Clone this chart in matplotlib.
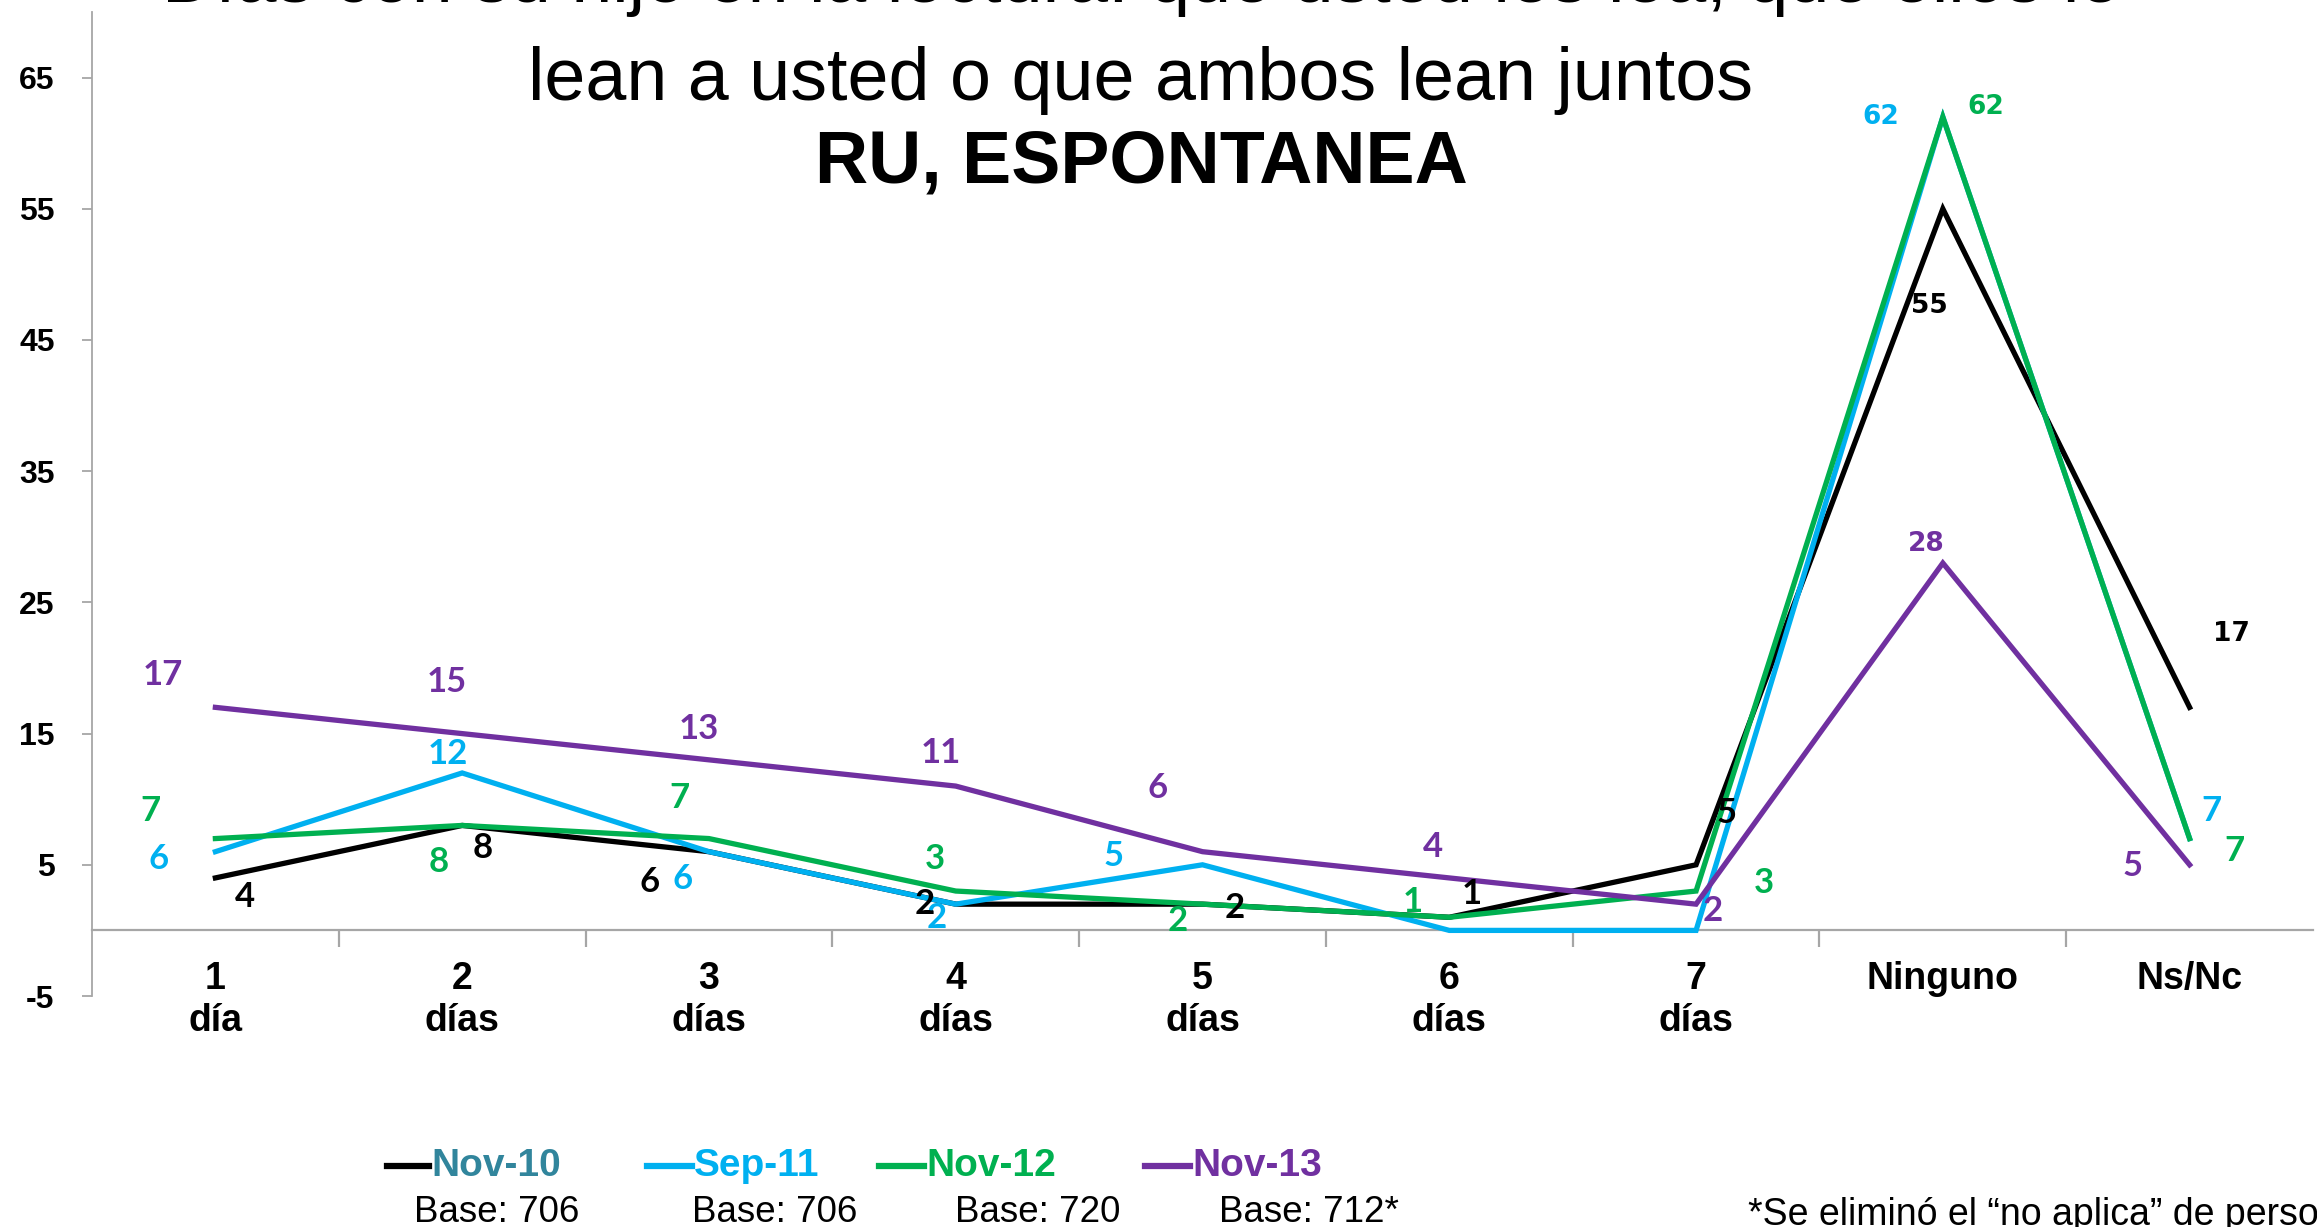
import matplotlib
matplotlib.use("Agg")
import matplotlib.pyplot as plt
from matplotlib.lines import Line2D

# ---------------- data ----------------
categories = ["1\ndía", "2\ndías", "3\ndías", "4\ndías", "5\ndías", "6\ndías", "7\ndías", "Ninguno", "Ns/Nc"]
series_names = ["Nov-10", "Sep-11", "Nov-12", "Nov-13"]
bases = ["Base: 706", "Base: 706", "Base: 720", "Base: 712*"]
nov10 = [4, 8, 6, 2, 2, 1, 5, 55, 17]
sep11 = [6, 12, 6, 2, 5, 0, 0, 62, 7]
nov12 = [7, 8, 7, 3, 2, 1, 3, 62, 7]
nov13 = [17, 15, 13, 11, 6, 4, 2, 28, 5]
# which points carry a data label
sep11_labeled = [True, True, True, True, True, False, False, True, True]
yticks = [-5, 5, 15, 25, 35, 45, 55, 65]

title_l1 = "Días con su hijo en la lectura: que usted les lea, que ellos le"
title_l2 = "lean a usted o que ambos lean juntos"
title_l3 = "RU, ESPONTANEA"
footnote = "*Se eliminó el “no aplica” de personas"

# ---------------- style ----------------
colors = ["#000000", "#00B0F0", "#00B050", "#7030A0"]
legend_text_colors = ["#31859C", "#00B0F0", "#00B050", "#7030A0"]
offsets = [
    [(21, -14), (15, -16), (-43, -22), (-22, 0), (23, -3), (16, 17), (22, 37), (-10, -70), (30, 53)],
    [(-41, -5), (-10, 14), (-19, -20), (-14, -10), (-64, 6), None, None, (-45, 0), (16, 20)],
    [(-47, 20), (-17, -26), (-21, 29), (-15, 23), (-18, -12), (-26, 11), (49, 6), (31, 7), (32, -9)],
    [(-38, 23), (-11, 37), (-7, 22), (-11, 24), (-32, 46), (-12, 22), (12, -5), (-12, 14), (-41, -1)],
]

W, H = 2317, 1227
fig = plt.figure(figsize=(W / 100, H / 100), dpi=100)
ax = fig.add_axes([92 / W, 1 - 996 / H, (2313 - 92) / W, (996 - 12) / H])

x = list(range(len(categories)))
all_series = [nov10, sep11, nov12, nov13]
labeled = [[True] * 9, sep11_labeled, [True] * 9, [True] * 9]

for vals, col, offs, lab in zip(all_series, colors, offsets, labeled):
    ax.plot(x, vals, color=col, lw=3.8, solid_joinstyle="miter", zorder=3)
    for i, (xi, v) in enumerate(zip(x, vals)):
        if not lab[i] or offs[i] is None:
            continue
        if i == 7 or (i == 8 and col == "#000000"):
            fp = dict(family="DejaVu Sans", fontsize=19, fontweight="bold")
        else:
            fp = dict(family="Lato", fontsize=25, fontweight="bold")
        ax.annotate(str(v), (xi, v), xytext=offs[i], textcoords="offset points",
                    ha="center", va="center", color=col, zorder=4, **fp)

ax.set_xlim(-0.5, len(categories) - 0.5)
ax.set_ylim(-5, 70)

for s in ["top", "right"]:
    ax.spines[s].set_visible(False)
ax.spines["bottom"].set_position(("data", 0))
ax.spines["bottom"].set_color("#A6A6A6")
ax.spines["bottom"].set_linewidth(1.6)
ax.spines["left"].set_color("#A6A6A6")
ax.spines["left"].set_linewidth(1.3)

ax.set_yticks(yticks)
ax.set_yticklabels([str(t) for t in yticks], fontsize=23, fontweight="bold",
                   family="Liberation Sans")
ax.tick_params(axis="y", length=7, width=1.3, color="#A6A6A6", pad=20)

ax.set_xticks(x)
ax.set_xticklabels(categories, fontsize=27, fontweight="bold", family="Liberation Sans",
                   linespacing=1.2)
ax.tick_params(axis="x", which="major", length=0, pad=22)
ax.set_xticks([i + 0.5 for i in x[:-1]], minor=True)
ax.tick_params(axis="x", which="minor", length=12, width=1.6, color="#A6A6A6", direction="out")

# ---------------- titles ----------------
cx = 1141 / W
fig.text(cx, 1 - 2 / H, title_l1, ha="center", va="baseline", fontsize=53,
         family="Liberation Sans")
fig.text(cx, 1 - 100 / H, title_l2, ha="center", va="baseline", fontsize=53,
         family="Liberation Sans")
fig.text(cx, 1 - 182 / H, title_l3, ha="center", va="baseline", fontsize=53,
         fontweight="bold", family="Liberation Sans")

# ---------------- legend ----------------
leg_line_x = [(387, 429), (647, 692), (879, 924), (1145, 1190)]
base_x = [414, 692, 955, 1219]
ly = 1 - 1166 / H
for name, col, tcol, (x0, x1), bx, btxt in zip(series_names, colors, legend_text_colors,
                                               leg_line_x, base_x, bases):
    fig.add_artist(Line2D([x0 / W, x1 / W], [ly, ly], color=col, lw=4.5,
                          transform=fig.transFigure))
    fig.text((x1 + 2) / W, ly, name, ha="left", va="center", fontsize=28,
             fontweight="bold", color=tcol, family="Liberation Sans")
    fig.text(bx / W, 1 - 1212 / H, btxt, ha="left", va="center", fontsize=26.5,
             family="Liberation Sans")

fig.text(1748 / W, 1 - 1215 / H, footnote, ha="left", va="center", fontsize=27,
         family="Liberation Sans")

fig.savefig("out.png", dpi=100)
